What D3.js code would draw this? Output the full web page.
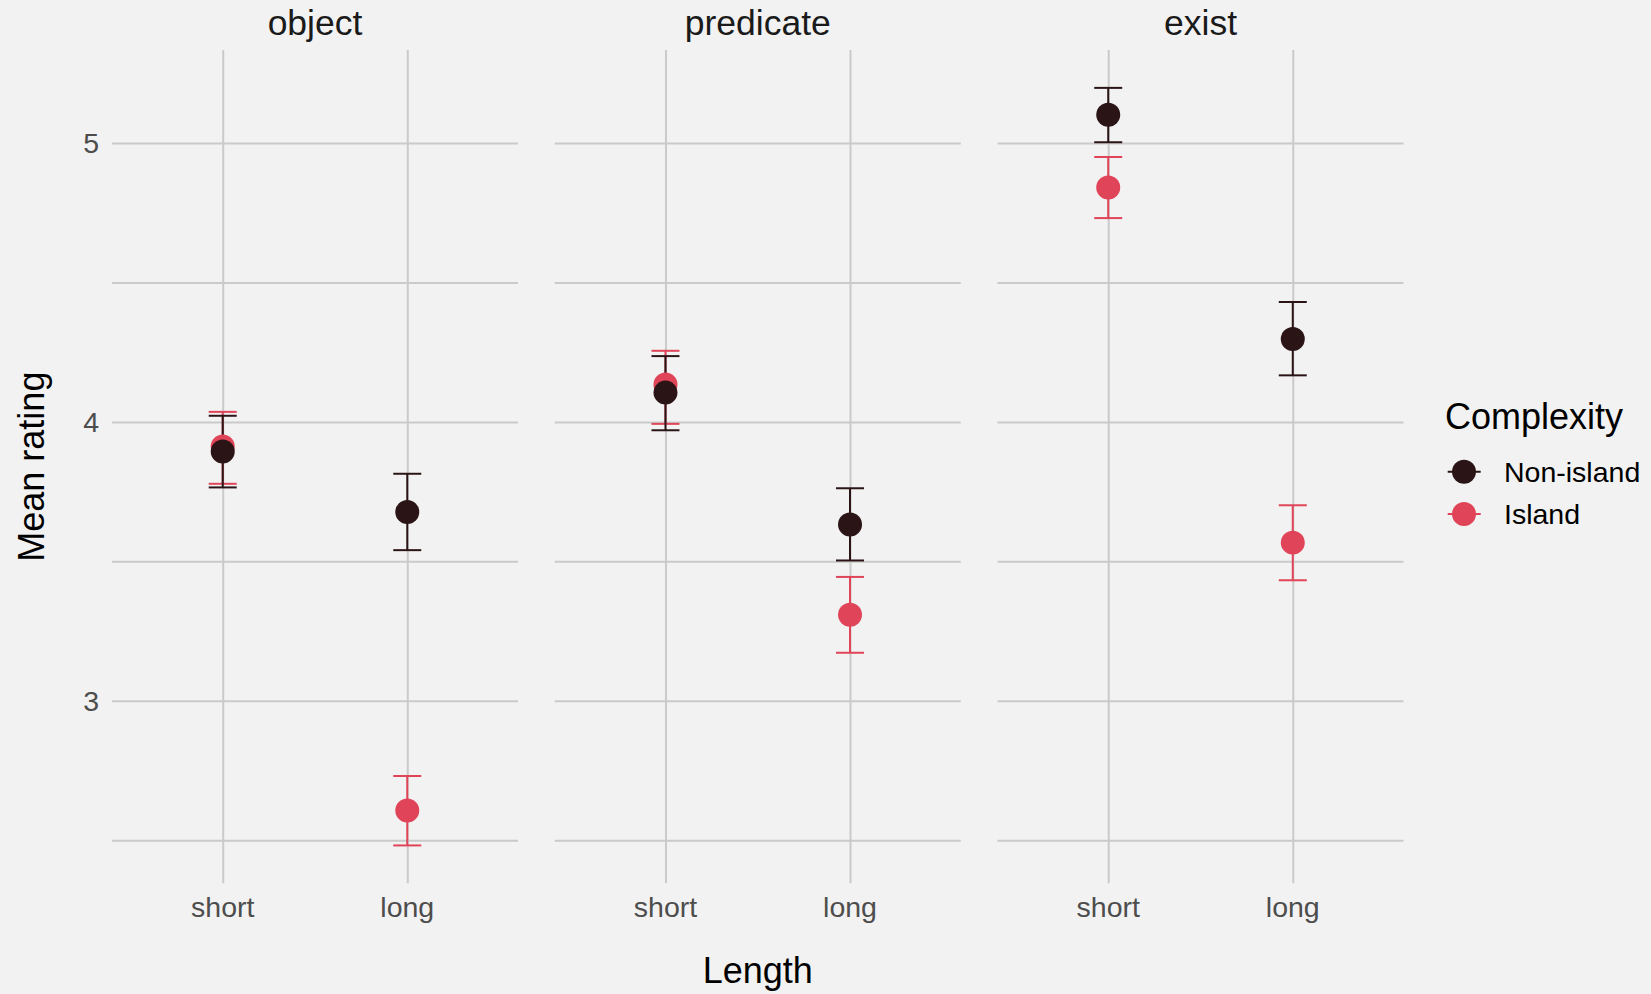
<!DOCTYPE html>
<html lang="en">
<head>
  <meta charset="UTF-8">
  <title>Mean rating by Length and Complexity</title>
  <style>
      body { margin: 0; background: #f2f2f2; }
      svg { display: block; font-family: "Liberation Sans", Arial, sans-serif; }
      .grid line { stroke: #cacaca; stroke-width: 2; }
      .grid path { stroke-width: 0; }
  </style>
</head>
<body>
<div id="chart"></div>
<script src="https://d3js.org/d3.v7.min.js"></script>
<script>
  // facets, x levels, groups
  const facets = ["object", "predicate", "exist"];
  const lengths = ["short", "long"];
  const complexity = ["Non-island", "Island"];
  const yTicks = [2.5, 3, 3.5, 4, 4.5, 5];
  const yTickLabels = [3, 4, 5];

  // values in order: object short/long, predicate short/long, exist short/long
  const nonIslandMean = [3.894, 3.677, 4.105, 3.632, 5.102, 4.297];
  const nonIslandLow  = [3.765, 3.540, 3.970, 3.503, 5.003, 4.167];
  const nonIslandHigh = [4.022, 3.814, 4.236, 3.762, 5.198, 4.430];
  const islandMean = [3.912, 2.606, 4.134, 3.308, 4.841, 3.567];
  const islandLow  = [3.778, 2.481, 3.993, 3.172, 4.731, 3.432];
  const islandHigh = [4.036, 2.730, 4.255, 3.444, 4.950, 3.701];

  const colors = {"Non-island": "#2b1416", "Island": "#e04458"};

  const rows = [];
  facets.forEach((f, fi) => {
    lengths.forEach((l, li) => {
      const i = fi * 2 + li;
      rows.push({facet: f, length: l, group: "Non-island", mean: nonIslandMean[i], low: nonIslandLow[i], high: nonIslandHigh[i]});
      rows.push({facet: f, length: l, group: "Island", mean: islandMean[i], low: islandLow[i], high: islandHigh[i]});
    });
  });
  // island drawn underneath
  const drawOrder = ["Island", "Non-island"];

  const width = 1651, height = 994;
  const plotTop = 50, plotBottom = 883.3;

  const svg = d3.select("#chart").append("svg")
    .attr("width", width)
    .attr("height", height);

  svg.append("rect")
    .attr("width", width)
    .attr("height", height)
    .attr("fill", "#f2f2f2");

  const lo = d3.min(rows, d => d.low), hi = d3.max(rows, d => d.high);
  const pad = (hi - lo) * 0.05;
  const y = d3.scaleLinear()
    .domain([lo - pad, hi + pad])
    .range([plotBottom, plotTop]);

  const fx = d3.scaleBand()
    .domain(facets)
    .range([112, 1403.5])
    .paddingInner(0.083);

  const x = d3.scalePoint()
    .domain(lengths)
    .range([0, fx.bandwidth()])
    .padding(0.6);

  const panels = svg.selectAll(".panel")
    .data(facets)
    .enter().append("g")
    .attr("class", "panel")
    .attr("transform", d => `translate(${fx(d)},0)`);

  // horizontal grid
  panels.append("g")
    .attr("class", "grid")
    .call(d3.axisLeft(y)
      .tickValues(yTicks)
      .tickSize(-fx.bandwidth())
      .tickFormat(""))
    .call(g => g.select(".domain").remove());

  // vertical grid
  panels.append("g")
    .attr("class", "grid")
    .attr("transform", `translate(0,${plotBottom})`)
    .call(d3.axisBottom(x)
      .tickSize(-(plotBottom - plotTop))
      .tickFormat(""))
    .call(g => g.select(".domain").remove());

  // x tick labels
  panels.selectAll(".xlab")
    .data(lengths)
    .enter().append("text")
    .attr("x", d => x(d))
    .attr("y", 916.7)
    .attr("text-anchor", "middle")
    .style("font-size", "28.5px")
    .attr("fill", "#4d4d4d")
    .text(d => d);

  // strip titles
  panels.append("text")
    .attr("x", fx.bandwidth() / 2)
    .attr("y", 35)
    .attr("text-anchor", "middle")
    .style("font-size", "35.5px")
    .attr("fill", "#1a1a1a")
    .text(d => d);

  // y tick labels
  svg.selectAll(".ylab")
    .data(yTickLabels)
    .enter().append("text")
    .attr("x", 99)
    .attr("y", d => y(d))
    .attr("dy", "0.35em")
    .attr("text-anchor", "end")
    .style("font-size", "28.5px")
    .attr("fill", "#4d4d4d")
    .text(d => d);

  const capHalf = 14;
  const px = d => fx(d.facet) + x(d.length);

  drawOrder.forEach(grp => {
    const sub = rows.filter(d => d.group === grp);
    const g = svg.append("g")
      .attr("stroke", colors[grp])
      .attr("stroke-width", 2);
    g.selectAll(".stem").data(sub).enter().append("line")
      .attr("x1", px).attr("x2", px)
      .attr("y1", d => y(d.low)).attr("y2", d => y(d.high));
    g.selectAll(".capt").data(sub).enter().append("line")
      .attr("x1", d => px(d) - capHalf).attr("x2", d => px(d) + capHalf)
      .attr("y1", d => y(d.high)).attr("y2", d => y(d.high));
    g.selectAll(".capb").data(sub).enter().append("line")
      .attr("x1", d => px(d) - capHalf).attr("x2", d => px(d) + capHalf)
      .attr("y1", d => y(d.low)).attr("y2", d => y(d.low));
  });

  drawOrder.forEach(grp => {
    svg.append("g").selectAll("circle")
      .data(rows.filter(d => d.group === grp))
      .enter().append("circle")
      .attr("cx", px)
      .attr("cy", d => y(d.mean))
      .attr("r", 12)
      .attr("fill", colors[grp]);
  });

  // axis titles
  svg.append("text")
    .attr("transform", `translate(43.5,${(plotTop + plotBottom) / 2}) rotate(-90)`)
    .attr("text-anchor", "middle")
    .style("font-size", "36px")
    .attr("fill", "#000")
    .text("Mean rating");

  svg.append("text")
    .attr("x", fx.range()[0] + (fx.range()[1] - fx.range()[0]) / 2)
    .attr("y", 983.3)
    .attr("text-anchor", "middle")
    .style("font-size", "36px")
    .attr("fill", "#000")
    .text("Length");

  // legend
  const legend = svg.append("g").attr("transform", "translate(1445,0)");
  legend.append("text")
    .attr("x", 0)
    .attr("y", 429.3)
    .style("font-size", "36px")
    .attr("fill", "#000")
    .text("Complexity");

  const ly = d3.scalePoint().domain(complexity).range([471.7, 514]);
  const keys = legend.selectAll(".key")
    .data(complexity)
    .enter().append("g")
    .attr("transform", d => `translate(0,${ly(d)})`);
  keys.append("line")
    .attr("x1", 2.7).attr("x2", 35.7)
    .attr("stroke", d => colors[d])
    .attr("stroke-width", 2);
  keys.append("circle")
    .attr("cx", 19)
    .attr("r", 12)
    .attr("fill", d => colors[d]);
  keys.append("text")
    .attr("x", 59)
    .attr("dy", "0.35em")
    .style("font-size", "28.5px")
    .attr("fill", "#000")
    .text(d => d);
</script>
</body>
</html>
